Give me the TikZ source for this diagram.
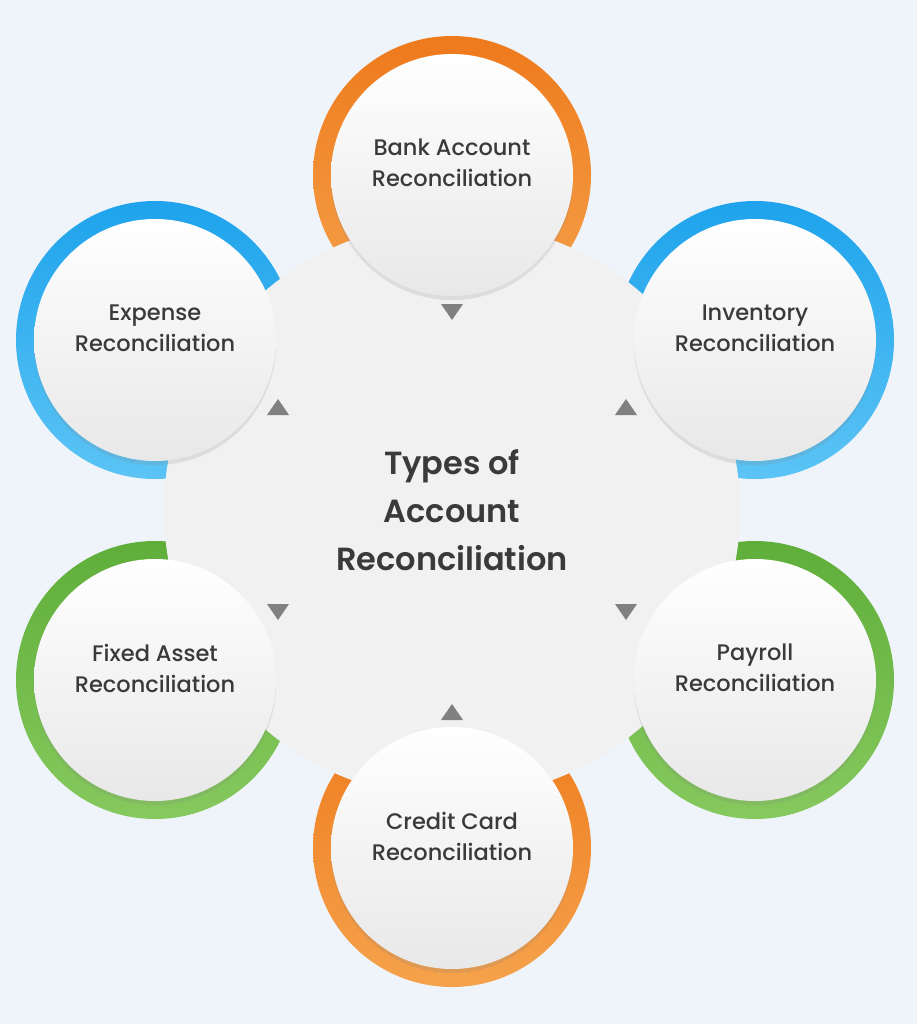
\documentclass[tikz,border=0pt]{standalone}
\usepackage{fontspec}
\setmainfont{Poppins}
\newfontfamily\medfont{Poppins}[UprightFont=* Medium, BoldFont=* SemiBold]
\usetikzlibrary{shadows,positioning}
\definecolor{bgc}{HTML}{EEF4FA}
\definecolor{hubc}{HTML}{F1F1F1}
\definecolor{txtc}{HTML}{3A3A3A}
\definecolor{tric}{HTML}{808080}
\definecolor{orgA}{HTML}{EE7A1C}\definecolor{orgB}{HTML}{F5A24C}
\definecolor{bluA}{HTML}{1EA3EC}\definecolor{bluB}{HTML}{5CC4F5}
\definecolor{grnA}{HTML}{5FAE3A}\definecolor{grnB}{HTML}{86C95E}
\begin{document}
\begin{tikzpicture}[x=1pt,y=-1pt,
		ring/.style 2 args={circle, minimum size=278pt, inner sep=0pt, top color=#1, bottom color=#2, draw=none},
		item/.style={circle, minimum size=242pt, inner sep=0pt, top color=white, bottom color=black!9,
			drop shadow={opacity=.18, shadow xshift=0pt, shadow yshift=-4pt}},
		lbl/.style={text=txtc, font=\medfont\fontsize{22.5}{31}\selectfont, align=center, yshift=12pt},
		tri/.style={fill=tric, draw=none}
		]
		\fill[bgc] (0,0) rectangle (917,1024);
		% ---- Ringe
		\node[ring={orgA}{orgB}] (r1) at (452,175) {};
		\node[ring={bluA}{bluB}] (r2) at (755,340) {};
		\node[ring={grnA}{grnB}] (r3) at (755,680) {};
		\node[ring={orgA}{orgB}] (r4) at (452,848) {};
		\node[ring={grnA}{grnB}] (r5) at (155,680) {};
		\node[ring={bluA}{bluB}] (r6) at (155,340) {};
		% ---- Mitte
		\node[circle, fill=hubc, minimum size=576pt, text=txtc, align=center,
			font=\medfont\fontsize{32}{48}\selectfont\bfseries] (hub) at (452,510)
			{Types of\\Account\\Reconciliation};
		% ---- Kreise
		\foreach \r/\n in {r1/bank, r2/inv, r3/pay, r4/cred, r5/fix, r6/exp}
			\node[item] (\n) at (\r) {};
		\node[lbl] at (bank) {Bank Account\\Reconciliation};
		\node[lbl] at (inv)  {Inventory\\Reconciliation};
		\node[lbl] at (pay)  {Payroll\\Reconciliation};
		\node[lbl] at (cred) {Credit Card\\Reconciliation};
		\node[lbl] at (fix)  {Fixed Asset\\Reconciliation};
		\node[lbl] at (exp)  {Expense\\Reconciliation};
		% ---- Dreiecke
		\foreach \x/\y/\d in {452/312/1, 626/407/-1, 626/612/1, 452/712/-1, 278/612/1, 278/407/-1}
			\fill[tri] (\x-11,\y-8*\d) -- (\x+11,\y-8*\d) -- (\x,\y+8*\d) -- cycle;
	\end{tikzpicture}
\end{document}
